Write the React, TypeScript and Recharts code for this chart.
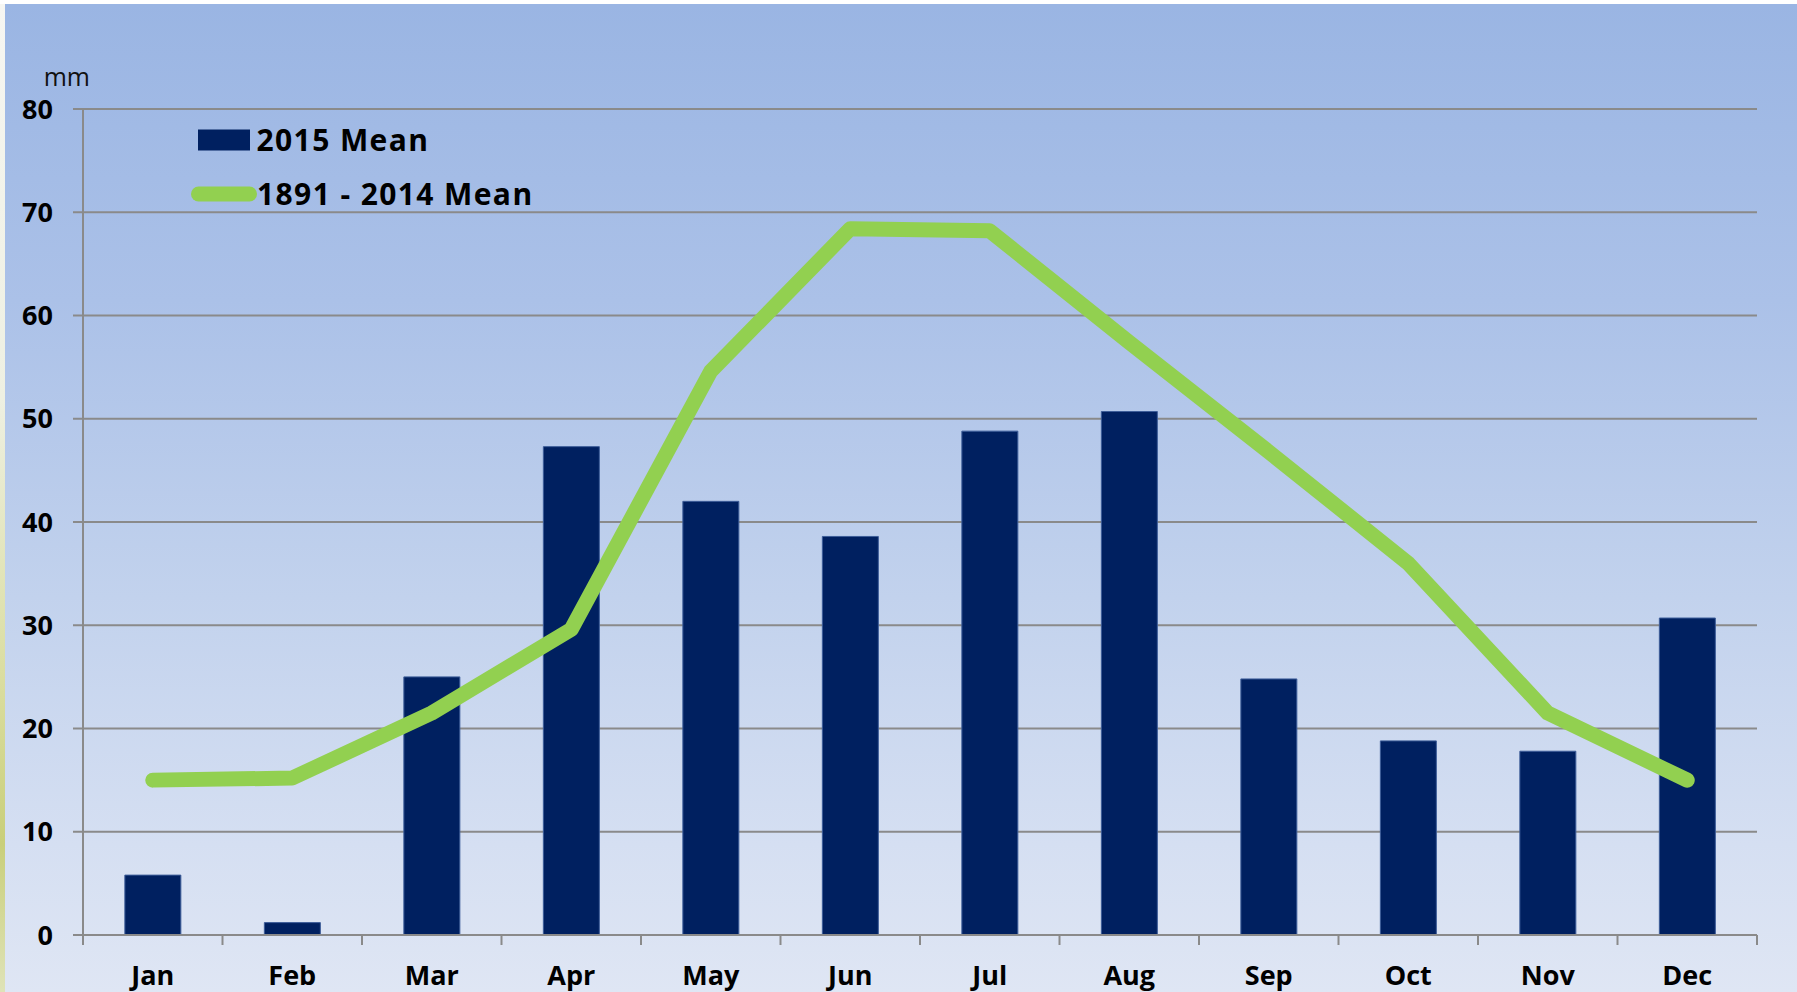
import React from 'react';
import { ComposedChart, Bar, Line, XAxis, YAxis, CartesianGrid, Legend } from 'recharts';

const months = ['Jan', 'Feb', 'Mar', 'Apr', 'May', 'Jun', 'Jul', 'Aug', 'Sep', 'Oct', 'Nov', 'Dec'];
const mean2015 = [5.8, 1.2, 25.0, 47.3, 42.0, 38.6, 48.8, 50.7, 24.8, 18.8, 17.8, 30.7];
const mean1891to2014 = [15.0, 15.2, 21.5, 29.6, 54.6, 68.4, 68.2, 57.4, 46.8, 36.0, 21.5, 15.0];
const yTicks = [0, 10, 20, 30, 40, 50, 60, 70, 80];
const barName = '2015 Mean';
const lineName = '1891 - 2014 Mean';
const unitLabel = 'mm';

const data = months.map((m, i) => ({ month: m, a: mean2015[i], b: mean1891to2014[i] }));

const FONT = '"Open Sans", sans-serif';
const BAR_COLOR = '#002060';
const LINE_COLOR = '#92d050';
const GRID_COLOR = '#8a8a8a';
const X_TICK_MARGIN = 21;

const XTick = (props: any) => {
  const { x, y, payload, index, visibleTicksCount } = props;
  const off = payload && payload.offset ? payload.offset : 69.75;
  const axisY = y - X_TICK_MARGIN - 10;
  const isLast = index === (visibleTicksCount ? visibleTicksCount - 1 : months.length - 1);
  return (
    <g>
      <line x1={x - off} x2={x - off} y1={axisY} y2={axisY + 10} stroke={GRID_COLOR} strokeWidth={2} />
      {isLast && (
        <line x1={x + off} x2={x + off} y1={axisY} y2={axisY + 10} stroke={GRID_COLOR} strokeWidth={2} />
      )}
      <text x={x} y={y} dy="0.71em" textAnchor="middle" fontFamily={FONT} fontWeight={700} fontSize={27} fill="#000">
        {payload.value}
      </text>
    </g>
  );
};

const renderLegend = (props: any) => {
  const payload = props.payload || [];
  const barItem = payload.find((p: any) => p.type !== 'line') || { value: barName, color: BAR_COLOR };
  const lineItem = payload.find((p: any) => p.type === 'line') || { value: lineName, color: LINE_COLOR };
  return (
    <svg width={380} height={100} style={{ display: 'block' }}>
      <rect x={8} y={9.5} width={52} height={21} fill={BAR_COLOR} />
      <text x={66.5} y={30.7} fontFamily={FONT} fontWeight={700} fontSize={30} letterSpacing={1.4} fill="#000">
        {barItem.value}
      </text>
      <line x1={8.5} x2={59.5} y1={74} y2={74} stroke={LINE_COLOR} strokeWidth={15} strokeLinecap="round" />
      <text x={67} y={85} fontFamily={FONT} fontWeight={700} fontSize={30} letterSpacing={1.4} fill="#000">
        {lineItem.value}
      </text>
    </svg>
  );
};

const MmLabel = (props: any) => {
  const vb = props.viewBox || { x: 0, y: 109, width: 83 };
  return (
    <text x={vb.x + vb.width + 7} y={vb.y - 23} textAnchor="end" fontFamily={FONT} fontSize={25} fill="#111">
      {unitLabel}
    </text>
  );
};

export default function App() {
  return (
    <div style={{ position: 'absolute', left: 0, top: 0, width: 1797, height: 992, background: '#ffffff', overflow: 'hidden' }}>
      <div
        style={{
          position: 'absolute',
          left: 0,
          top: 4,
          width: 5,
          height: 988,
          background: 'linear-gradient(to bottom, #f6f6f2 0%, #eef0e2 40%, #d9dc9c 70%, #c9cf7a 85%, #dfe3b8 100%)',
        }}
      />
      <div
        style={{
          position: 'absolute',
          left: 5,
          top: 4,
          width: 1792,
          height: 988,
          background: 'linear-gradient(to bottom, #9ab5e3 0%, #abc1e8 30%, #c2d2ed 60%, #d5dff2 85%, #dfe6f4 100%)',
        }}
      />
      <div style={{ position: 'absolute', left: 0, top: 0 }}>
        <ComposedChart
          width={1797}
          height={992}
          data={data}
          margin={{ top: 109, right: 40, bottom: 0, left: 0 }}
          barCategoryGap="30%"
        >
          <CartesianGrid vertical={false} stroke={GRID_COLOR} strokeWidth={2} />
          <XAxis
            dataKey="month"
            height={57}
            interval={0}
            axisLine={{ stroke: GRID_COLOR, strokeWidth: 2 }}
            tickLine={false}
            tickSize={10}
            tickMargin={X_TICK_MARGIN}
            tick={<XTick />}
          />
          <YAxis
            width={83}
            domain={[0, 80]}
            ticks={yTicks}
            interval={0}
            axisLine={{ stroke: GRID_COLOR, strokeWidth: 2 }}
            tickLine={{ stroke: GRID_COLOR, strokeWidth: 2 }}
            tickSize={10}
            tickMargin={20}
            tick={{ fontFamily: FONT, fontWeight: 700, fontSize: 27, fill: '#000' }}
            label={<MmLabel />}
          />
          <Legend
            layout="horizontal"
            align="center"
            verticalAlign="middle"
            wrapperStyle={{ position: 'absolute', left: 190, top: 120, width: 380, height: 100 }}
            content={renderLegend}
          />
          <Bar dataKey="a" name={barName} fill={BAR_COLOR} stroke="#3d5d99" strokeWidth={1} isAnimationActive={false} />
          <Line
            dataKey="b"
            name={lineName}
            type="linear"
            stroke={LINE_COLOR}
            strokeWidth={15}
            strokeLinecap="round"
            strokeLinejoin="round"
            dot={false}
            activeDot={false}
            legendType="line"
            isAnimationActive={false}
          />
        </ComposedChart>
      </div>
    </div>
  );
}
